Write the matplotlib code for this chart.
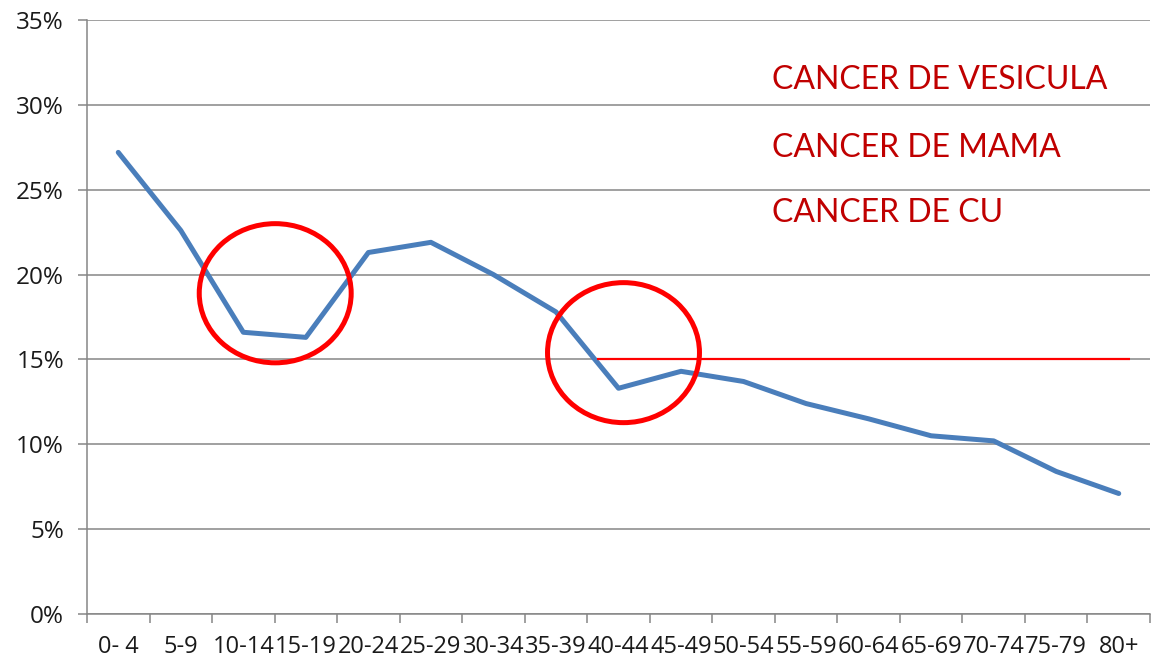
import matplotlib
matplotlib.use("Agg")
import matplotlib.pyplot as plt
from matplotlib.patches import Ellipse
from matplotlib.ticker import FuncFormatter, MultipleLocator, FixedLocator

# ---- data ----
age_groups = ["0- 4", "5-9", "10-14", "15-19", "20-24", "25-29", "30-34", "35-39",
              "40-44", "45-49", "50-54", "55-59", "60-64", "65-69", "70-74", "75-79", "80+"]
percent = [27.2, 22.6, 16.6, 16.3, 21.3, 21.9, 20.0, 17.8,
           13.3, 14.3, 13.7, 12.4, 11.5, 10.5, 10.2, 8.4, 7.1]

ref_level = 15.0
ref_span = [7.66, 16.18]

circle_centers = [(2.51, 18.9), (8.08, 15.4)]
circle_sizes = [(2.43, 8.2), (2.43, 8.25)]

annotations = ["CANCER DE VESICULA", "CANCER DE MAMA", "CANCER DE CU"]
annotation_y = [31.45, 27.45, 23.6]
annotation_x = 10.45

# ---- figure ----
fig = plt.figure(figsize=(11.54, 6.64), dpi=100)
ax = fig.add_axes([87/1154, 1 - 614/664, 1063/1154, 594/664])

x = list(range(len(age_groups)))
ax.plot(x, percent, color="#4A7EBB", lw=3.6, solid_capstyle="round",
        solid_joinstyle="round", zorder=3)

ax.hlines(ref_level, ref_span[0], ref_span[1], color="#FF0000", lw=1.6, zorder=4)

for (cx, cy), (w, h) in zip(circle_centers, circle_sizes):
    ax.add_patch(Ellipse((cx, cy), w, h, fill=False, edgecolor="#FF0000",
                         lw=3.6, zorder=5))

for txt, ty in zip(annotations, annotation_y):
    ax.text(annotation_x, ty, txt, color="#C00000", fontsize=23,
            family="Lato", va="center", ha="left", zorder=6)

ax.set_xlim(-0.5, len(age_groups) - 0.5)
ax.set_ylim(0, 35)
ax.yaxis.set_major_locator(MultipleLocator(5))
ax.yaxis.set_major_formatter(FuncFormatter(lambda v, p: f"{v:.0f}%"))
ax.grid(axis="y", color="#868686", lw=1.1, zorder=0)
ax.set_axisbelow(True)

ax.set_xticks(x)
ax.set_xticklabels(age_groups)
ax.xaxis.set_minor_locator(FixedLocator([i - 0.5 for i in range(len(age_groups) + 1)]))
ax.tick_params(axis="x", which="major", length=0, pad=15, labelsize=17)
ax.tick_params(axis="x", which="minor", length=6.5, width=1.1, color="#868686")
ax.tick_params(axis="y", length=6.5, width=1.1, color="#868686", pad=10, labelsize=17.5)
for lab in ax.get_xticklabels() + ax.get_yticklabels():
    lab.set_family("Open Sans")
    lab.set_color("#1a1a1a")

for s in ["top", "right"]:
    ax.spines[s].set_visible(False)
ax.spines["left"].set_color("#868686")
ax.spines["bottom"].set_color("#868686")
ax.spines["left"].set_linewidth(1.1)
ax.spines["bottom"].set_linewidth(1.1)

fig.savefig("out.png", dpi=100)
